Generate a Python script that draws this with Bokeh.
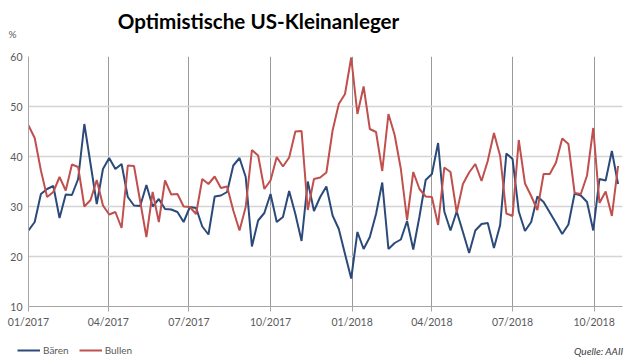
import datetime as dt
from bokeh.plotting import figure
from bokeh.layouts import column
from bokeh.models import (Range1d, FixedTicker, Label, Legend, LegendItem,
                          DatetimeTickFormatter)
from bokeh.embed import file_html
from bokeh.resources import INLINE

# Weekly AAII survey, first survey 05.01.2017, last 01.11.2018
first_survey = dt.datetime(2017, 1, 5)

baeren = [25.2, 26.9, 32.5, 33.5, 34.1, 27.7, 32.4, 32.3, 35.5, 46.5,
          38.5, 30.5, 37.5, 39.7, 37.5, 38.5, 31.9, 30.2, 30.1, 34.3,
          30.0, 31.5, 29.5, 29.4, 28.9, 26.9, 29.9, 29.7, 26.0, 24.4,
          32.0, 32.2, 32.9, 38.2, 39.7, 35.9, 22.0, 27.2, 28.7, 32.5,
          26.9, 27.9, 33.1, 28.5, 23.1, 35.0, 29.1, 31.9, 34.0, 28.2,
          25.5, 20.5, 15.6, 24.9, 21.5, 23.9, 28.5, 34.8, 21.5, 22.7,
          23.4, 27.1, 21.4, 28.0, 35.3, 36.5, 42.7, 29.0, 25.2, 29.0,
          24.9, 20.7, 25.2, 26.5, 26.7, 21.7, 26.3, 40.6, 39.5, 29.0,
          25.1, 26.9, 32.0, 30.9, 28.8, 26.7, 24.5, 26.4, 32.6, 32.2,
          30.9, 25.2, 35.5, 35.2, 41.1, 34.5]

bullen = [46.2, 43.7, 37.2, 31.9, 32.9, 35.9, 33.2, 38.4, 37.9, 30.0,
          31.3, 35.3, 30.2, 28.4, 28.9, 25.7, 38.2, 38.1, 31.0, 23.9,
          32.9, 26.9, 35.2, 32.4, 32.5, 30.0, 29.9, 28.5, 35.5, 34.5,
          36.0, 33.7, 34.0, 29.2, 25.2, 29.9, 41.3, 40.2, 33.5, 35.2,
          39.9, 38.0, 39.8, 45.0, 45.1, 29.3, 35.5, 35.8, 36.8, 45.2,
          50.5, 52.5, 59.8, 48.5, 54.0, 45.5, 44.9, 37.1, 48.5, 44.3,
          37.5, 27.3, 36.9, 33.5, 32.0, 31.9, 26.3, 37.8, 36.9, 28.8,
          34.5, 36.8, 38.5, 35.1, 39.1, 44.7, 40.1, 28.6, 28.1, 43.3,
          34.6, 32.1, 29.3, 36.5, 36.5, 38.8, 43.6, 42.5, 32.7, 32.5,
          36.2, 45.7, 30.7, 33.0, 28.1, 38.1]

dates = [first_survey + dt.timedelta(weeks=i) for i in range(len(baeren))]

tick_dates = [dt.datetime(2017, 1, 5), dt.datetime(2017, 4, 5), dt.datetime(2017, 7, 5),
              dt.datetime(2017, 10, 5), dt.datetime(2018, 1, 5), dt.datetime(2018, 4, 5),
              dt.datetime(2018, 7, 5), dt.datetime(2018, 10, 5)]
y_ticks = [10, 20, 30, 40, 50, 60]
series_names = ["Bären", "Bullen"]

EPOCH = dt.datetime(1970, 1, 1)


def ms(d):
    return (d - EPOCH).total_seconds() * 1000.0


FONT = "Lato"
GRAY_TXT = "#595959"
BLUE = "#2b4a7a"
RED = "#c0504d"
W = 640


def no_frame_align(fig):
    try:
        fig.frame_align = False
    except Exception:
        pass


# ---------- header strip: title and unit ----------
head = figure(width=W, height=48, x_range=Range1d(0, 1), y_range=Range1d(0, 1),
              x_axis_location=None, y_axis_location=None, output_backend="svg",
              toolbar_location=None, title=None, min_border=0)
no_frame_align(head)
head.outline_line_color = None
head.grid.visible = False
head.add_layout(Label(x=258, y=28, x_units="screen", y_units="screen",
                      text="Optimistische US-Kleinanleger", text_font=FONT,
                      text_font_style="bold", text_font_size="20.6px", text_color="black",
                      text_align="center", text_baseline="middle"))
head.add_layout(Label(x=12, y=15, x_units="screen", y_units="screen", text="%",
                      text_font=FONT, text_font_size="10px", text_color=GRAY_TXT,
                      text_align="center", text_baseline="middle"))

# ---------- main chart ----------
p = figure(width=W, height=282, x_axis_type="datetime",
           x_range=Range1d(ms(first_survey), ms(dt.datetime(2018, 11, 6))),
           y_range=Range1d(10, 60),
           output_backend="svg", toolbar_location=None, title=None,
           min_border_left=28, min_border_right=18, min_border_top=8, min_border_bottom=24)
no_frame_align(p)
p.outline_line_color = None
p.background_fill_color = "white"
p.border_fill_color = "white"

p.line(dates, baeren, line_color=BLUE, line_width=2)
p.line(dates, bullen, line_color=RED, line_width=2)

xt = FixedTicker(ticks=[ms(d) for d in tick_dates])
p.xaxis.ticker = xt
p.xaxis.formatter = DatetimeTickFormatter(
    milliseconds="%m/%Y", seconds="%m/%Y", minsec="%m/%Y", minutes="%m/%Y",
    hourmin="%m/%Y", hours="%m/%Y", days="%m/%Y", months="%m/%Y", years="%m/%Y")
p.xaxis.major_tick_out = 5
p.xaxis.major_tick_in = 0
p.xaxis.minor_tick_line_color = None
p.xaxis.axis_line_color = "#a6a6a6"
p.xaxis.major_tick_line_color = "#a6a6a6"
p.xaxis.major_label_text_font = FONT
p.xaxis.major_label_text_font_size = "10.5px"
p.xaxis.major_label_text_color = GRAY_TXT
p.xaxis.major_label_standoff = 4

p.yaxis.ticker = FixedTicker(ticks=y_ticks)
p.yaxis.major_tick_out = 0
p.yaxis.major_tick_in = 0
p.yaxis.minor_tick_line_color = None
p.yaxis.axis_line_color = "#a6a6a6"
p.yaxis.major_label_text_font = FONT
p.yaxis.major_label_text_font_size = "10.5px"
p.yaxis.major_label_text_color = GRAY_TXT
p.yaxis.major_label_standoff = 6

p.xgrid.ticker = xt
p.xgrid.grid_line_color = "#9a9a9a"
p.xgrid.grid_line_width = 1
p.ygrid.grid_line_color = "#d4d4d4"
p.ygrid.grid_line_width = 1.5

# ---------- footer strip: legend and source ----------
foot = figure(width=W, height=30, x_axis_type="datetime", y_range=Range1d(0, 1),
              x_axis_location=None, y_axis_location=None, output_backend="svg",
              toolbar_location=None, title=None, min_border=0)
no_frame_align(foot)
foot.outline_line_color = None
foot.grid.visible = False
# series keys (values lie outside this strip's y range, only the legend shows)
k_b = foot.line(dates, baeren, line_color=BLUE, line_width=2)
k_u = foot.line(dates, bullen, line_color=RED, line_width=2)
legend = Legend(items=[LegendItem(label=series_names[0], renderers=[k_b]),
                       LegendItem(label=series_names[1], renderers=[k_u])],
                orientation="horizontal", location=(17, 4), padding=0, margin=0,
                spacing=10, glyph_width=23, glyph_height=10, label_height=10,
                label_standoff=3, label_text_font=FONT, label_text_font_size="10px",
                label_text_color=GRAY_TXT, border_line_color=None,
                background_fill_alpha=0)
foot.add_layout(legend)
foot.add_layout(Label(x=623, y=10, x_units="screen", y_units="screen", text="Quelle: AAII",
                      text_font=FONT, text_font_style="italic", text_font_size="10px",
                      text_color="#404040", text_align="right", text_baseline="middle"))

layout = column(head, p, foot, spacing=0)
open("out.html", "w").write(file_html(layout, INLINE))
